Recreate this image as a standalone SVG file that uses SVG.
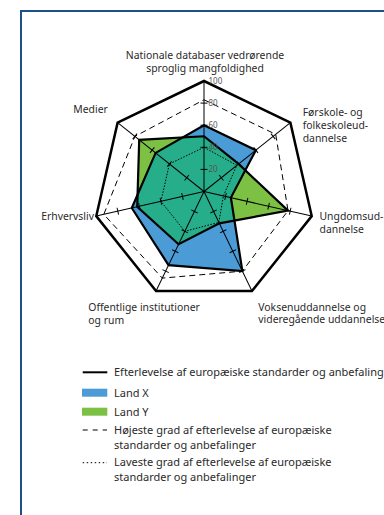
<svg xmlns="http://www.w3.org/2000/svg" width="384" height="515" viewBox="0 0 384 515">
<style>
.lbl{font-family:"Noto Sans","Liberation Sans",sans-serif;font-size:10.4px;fill:#2a2a2a}
.leg{font-family:"Noto Sans","Liberation Sans",sans-serif;font-size:11px;fill:#2a2a2a}
.num{font-family:"Noto Sans","Liberation Sans",sans-serif;font-size:8px;fill:#555}
.thin{stroke:#000;stroke-width:1;fill:none}
.outline{fill:none;stroke:#000;stroke-width:2.2;stroke-linejoin:miter}
.dash{fill:none;stroke:#000;stroke-width:1;stroke-dasharray:6 4}
.dot{fill:none;stroke:#000;stroke-width:1;stroke-dasharray:1.5 1.5}
</style>
<defs>
<polygon id="polyX" points="204,125.2 255.84,150.16 230.9,197.6 242.36,271.15 168.52,265.17 131.82,207.97 155.62,152.92"/>
<polygon id="polyY" points="204,136.25 238.56,163.94 288.03,210.68 219.34,223.36 178.59,244.27 137.21,206.74 139.21,139.83"/>
<clipPath id="clipX"><use href="#polyX"/></clipPath>
<g id="axis" class="thin">
<line x1="0" y1="0" x2="0" y2="-110.5"/>
<line x1="-3.5" y1="-22.1" x2="3.5" y2="-22.1"/>
<line x1="-3.5" y1="-44.2" x2="3.5" y2="-44.2"/>
<line x1="-3.5" y1="-66.3" x2="3.5" y2="-66.3"/>
<line x1="-3.5" y1="-88.4" x2="3.5" y2="-88.4"/>
</g>
</defs>
<rect x="0" y="0" width="384" height="515" fill="#fff"/>
<rect id="frame" x="21" y="11" width="420" height="540" fill="none" stroke="#1c4f8c" stroke-width="2"/>

<g id="fills">
<use href="#polyX" fill="#4a9bd6"/>
<use href="#polyY" fill="#7cc143"/>
<use href="#polyY" fill="#26ae8a" clip-path="url(#clipX)"/>
</g>

<g id="axes" transform="translate(204,191.5)">
<use href="#axis"/>
<use href="#axis" transform="rotate(51.4286)"/>
<use href="#axis" transform="rotate(102.8571)"/>
<use href="#axis" transform="rotate(154.2857)"/>
<use href="#axis" transform="rotate(205.7143)"/>
<use href="#axis" transform="rotate(257.1429)"/>
<use href="#axis" transform="rotate(308.5714)"/>
</g>

<g id="lowest">
<polygon class="dot" points="204,147.3 236.83,165.32 223.39,195.93 218.86,222.37 184.82,231.32 160.91,201.34 169.44,163.94"/>
</g>
<g id="highest">
<polygon class="dash" points="204,99.78 275.71,134.31 288.03,210.68 242.36,271.15 162.29,278.12 103.81,214.37 134.89,136.38"/>
</g>

<g id="outlines">
<use href="#polyX" class="outline"/>
<use href="#polyY" class="outline"/>
</g>

<g id="standard">
<polygon points="204,81 290.39,122.6 311.73,216.09 251.94,291.06 156.06,291.06 96.27,216.09 117.61,122.6" fill="none" stroke="#000" stroke-width="2.5"/>
</g>

<g id="scale">
<text class="num" x="208.5" y="84">100</text>
<text class="num" x="208.5" y="106">80</text>
<text class="num" x="208.5" y="128">60</text>
<text class="num" x="208.5" y="150">40</text>
<text class="num" x="208.5" y="172">20</text>
</g>

<g id="labels">
<text class="lbl" x="205" y="58.8" text-anchor="middle">Nationale databaser vedrørende</text>
<text class="lbl" x="205" y="71.5" text-anchor="middle">sproglig mangfoldighed</text>
<text class="lbl" x="73.3" y="113">Medier</text>
<text class="lbl" x="302.7" y="116">Førskole- og</text>
<text class="lbl" x="302.7" y="129">folkeskoleud-</text>
<text class="lbl" x="302.7" y="142">dannelse</text>
<text class="lbl" x="319.5" y="220">Ungdomsud-</text>
<text class="lbl" x="319.5" y="233">dannelse</text>
<text class="lbl" x="94" y="220" text-anchor="end">Erhvervsliv</text>
<text class="lbl" x="88.3" y="311">Offentlige institutioner</text>
<text class="lbl" x="88.3" y="323.5">og rum</text>
<text class="lbl" x="258.3" y="310.5">Voksenuddannelse og</text>
<text class="lbl" x="258.3" y="323">videregående uddannelse</text>
</g>

<g id="legend">
<line x1="82.7" y1="372.3" x2="107.3" y2="372.3" stroke="#000" stroke-width="2"/>
<text class="leg" x="114" y="375.5">Efterlevelse af europæiske standarder og anbefaling</text>
<rect x="82" y="388.7" width="25.3" height="8" fill="#4a9bd6"/>
<text class="leg" x="114" y="396.5">Land X</text>
<rect x="82" y="407.7" width="25.3" height="8" fill="#7cc143"/>
<text class="leg" x="114" y="415.5">Land Y</text>
<line x1="82.7" y1="430" x2="107" y2="430" stroke="#000" stroke-width="1" stroke-dasharray="5 5"/>
<text class="leg" x="114" y="434">Højeste grad af efterlevelse af europæiske</text>
<text class="leg" x="114" y="449">standarder og anbefalinger</text>
<line x1="82.7" y1="462.7" x2="107" y2="462.7" stroke="#000" stroke-width="1" stroke-dasharray="1.5 2.5"/>
<text class="leg" x="114" y="465.5">Laveste grad af efterlevelse af europæiske</text>
<text class="leg" x="114" y="480.5">standarder og anbefalinger</text>
</g>
</svg>
